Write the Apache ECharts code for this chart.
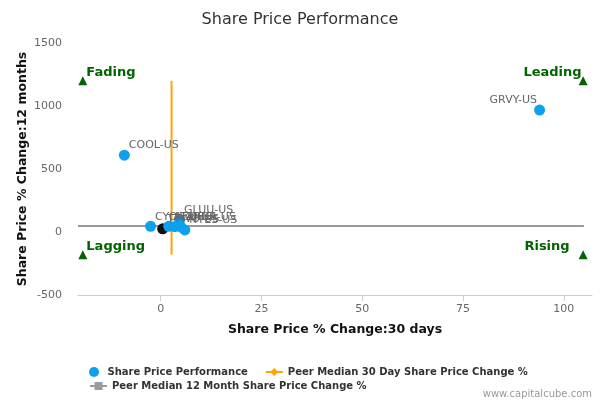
<!DOCTYPE html>
<html>
<head>
<meta charset="utf-8">
<script src="https://cdn.jsdelivr.net/npm/echarts@6/dist/echarts.min.js"></script>
<style>
  html, body { margin: 0; padding: 0; background: #fff; }
  #chart { width: 600px; height: 400px; }
</style>
</head>
<body>
<div id="chart"></div>
<script>
// companies: 30 day change (x) and 12 month change (y)
const tickers = ['GRVY-US', 'COOL-US', 'CYOU-US', 'TTWO-US', 'ATVI-US', 'EA-US', 'ZNGA-US', 'GLUU-US', 'NTES-US'];
const change30d = [94, -9, -2.5, 0.5, 2, 3.5, 5, 4.7, 6];
const change12m = [968, 610, 45, 25, 45, 42, 40, 95, 16];
const highlighted = 'TTWO-US';

// peer medians
const peerMedian30d = 2.7;
const peerMedian12m = 48;
const medianXRange = [-20.5, 105];
const medianYRange = [-180, 1200];

// quadrant markers
const quadrants = ['Fading', 'Leading', 'Lagging', 'Rising'];
const quadrantX = [-19.3, 104.8, -19.3, 104.8];
const quadrantY = [1200, 1200, -180, -180];

const xTicks = [0, 25, 50, 75, 100];

const font = 'DejaVu Sans';
const blue = '#0ca0ee';
const green = '#006400';

const companyData = tickers.map((t, i) => {
  const item = {
    name: t,
    value: [change30d[i], change12m[i]]
  };
  if (t === highlighted) item.itemStyle = { color: '#111' };
  // label flipped to the left where it would hit the right edge
  if (change30d[i] > 80) {
    item.label = { position: [3, -4], align: 'right' };
  }
  return item;
});

const quadrantData = quadrants.map((q, i) => {
  const right = quadrantX[i] > 50;
  return {
    name: q,
    value: [quadrantX[i], quadrantY[i]],
    label: right
      ? { position: [q === 'Rising' ? -9 : 3, -4], align: 'right' }
      : { position: [8, -4], align: 'left' }
  };
});

const chart = echarts.init(document.getElementById('chart'));

chart.setOption({
  animation: false,
  textStyle: { fontFamily: font },
  title: {
    text: 'Share Price Performance',
    left: 'center',
    top: 7,
    textStyle: { fontFamily: font, fontSize: 16, fontWeight: 'normal', color: '#333' }
  },
  grid: { left: 78, right: 8, top: 43, bottom: 105, outerBoundsMode: 'none' },
  xAxis: {
    type: 'value',
    min: -20.5,
    max: 107,
    name: 'Share Price % Change:30 days',
    nameLocation: 'middle',
    nameGap: 28,
    nameMoveOverlap: false,
    nameTextStyle: { fontFamily: font, fontSize: 12.5, fontWeight: 'bold', color: '#111' },
    axisLine: { show: true, onZero: false, lineStyle: { color: '#c0d0e0', width: 1 } },
    axisTick: { show: true, length: 6, lineStyle: { color: '#c0d0e0' }, customValues: xTicks },
    axisLabel: { color: '#666', fontSize: 11, margin: 9, customValues: xTicks },
    splitLine: { show: false }
  },
  yAxis: {
    type: 'value',
    min: -500,
    max: 1500,
    interval: 500,
    name: 'Share Price % Change:12 months',
    nameLocation: 'middle',
    nameGap: 49,
    nameMoveOverlap: false,
    nameTextStyle: { fontFamily: font, fontSize: 12.5, fontWeight: 'bold', color: '#111' },
    axisLine: { show: false },
    axisTick: { show: false },
    axisLabel: { color: '#666', fontSize: 11, margin: 16, formatter: v => String(v) },
    splitLine: { show: false }
  },
  legend: [
    {
      left: 84,
      top: 362,
      itemWidth: 17,
      itemHeight: 10,
      itemGap: 17,
      textStyle: { fontFamily: font, fontSize: 10, fontWeight: 'bold', color: '#333' },
      data: ['Share Price Performance', 'Peer Median 30 Day Share Price Change %']
    },
    {
      left: 84,
      top: 376,
      itemWidth: 17,
      itemHeight: 10,
      textStyle: { fontFamily: font, fontSize: 10, fontWeight: 'bold', color: '#333' },
      data: ['Peer Median 12 Month Share Price Change %']
    }
  ],
  graphic: [
    {
      type: 'text',
      right: 8,
      top: 389,
      style: { text: 'www.capitalcube.com', fill: '#999', font: '10px "DejaVu Sans"' }
    }
  ],
  series: [
    {
      name: 'Peer Median 12 Month Share Price Change %',
      type: 'line',
      symbol: 'rect',
      symbolSize: 8,
      showSymbol: false,
      color: '#999aa0',
      lineStyle: { color: '#999aa0', width: 2 },
      data: medianXRange.map(x => [x, peerMedian12m]),
      silent: true,
      z: 1
    },
    {
      name: 'Peer Median 30 Day Share Price Change %',
      type: 'line',
      symbol: 'diamond',
      symbolSize: 9,
      showSymbol: false,
      color: '#ffa500',
      lineStyle: { color: '#ffa500', width: 2 },
      data: medianYRange.map(y => [peerMedian30d, y]),
      silent: true,
      z: 2
    },
    {
      name: 'Share Price Performance',
      type: 'scatter',
      symbolSize: 11,
      color: blue,
      itemStyle: { opacity: 1 },
      label: {
        show: true,
        formatter: '{b}',
        position: [10, -4],
        align: 'left',
        verticalAlign: 'middle',
        color: '#666',
        fontSize: 11,
        fontFamily: font
      },
      data: companyData,
      z: 3
    },
    {
      name: 'quadrants',
      type: 'scatter',
      symbol: 'triangle',
      symbolSize: 9,
      color: green,
      itemStyle: { color: green, opacity: 1 },
      label: {
        show: true,
        formatter: '{b}',
        verticalAlign: 'middle',
        color: green,
        opacity: 1,
        fontSize: 13,
        fontWeight: 'bold',
        fontFamily: font
      },
      data: quadrantData,
      silent: true,
      z: 4
    }
  ]
});
</script>
</body>
</html>
